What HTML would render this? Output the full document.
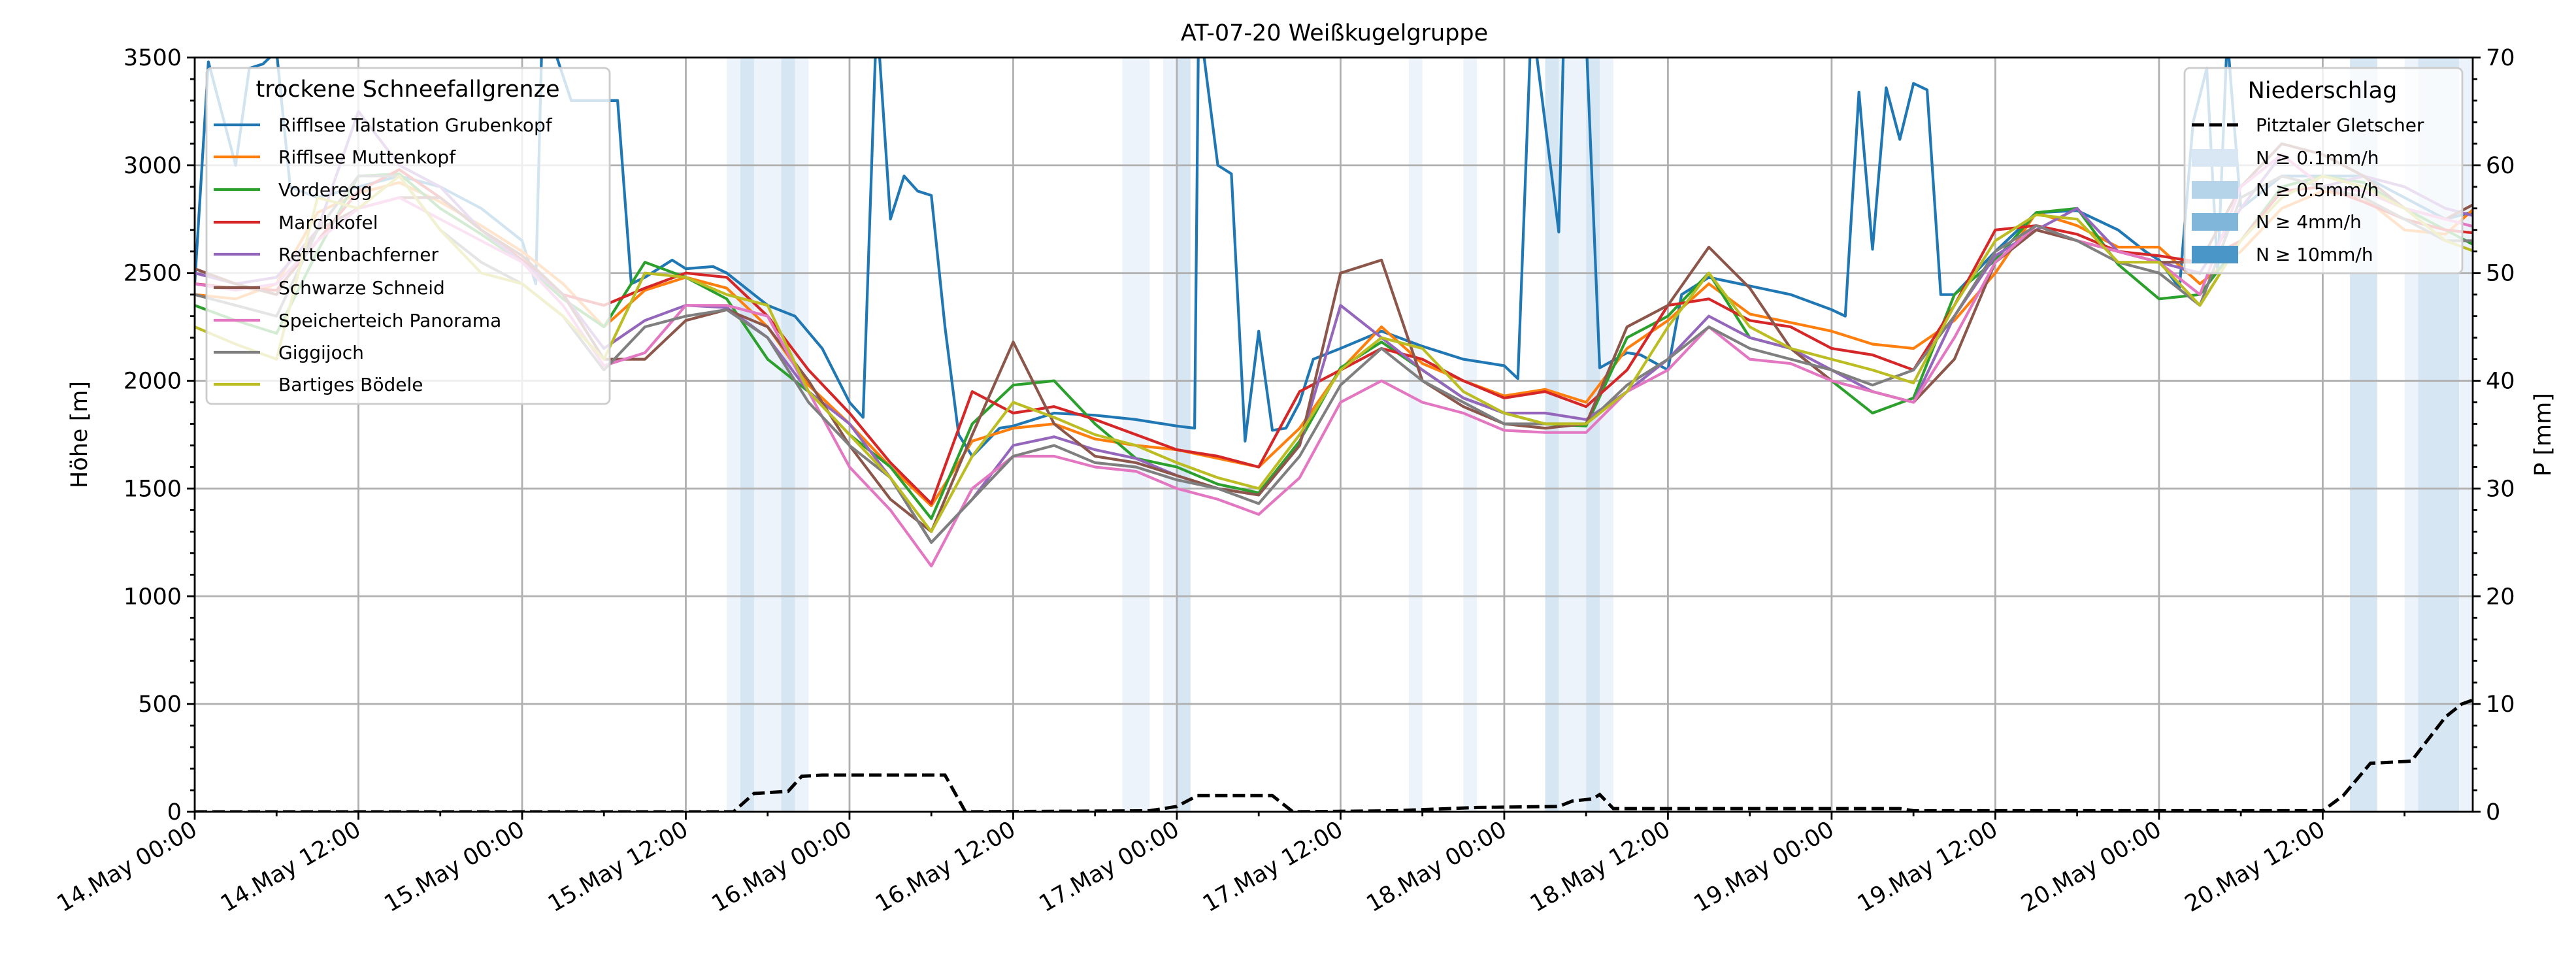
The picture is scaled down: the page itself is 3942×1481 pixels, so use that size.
<!DOCTYPE html>
<html><head><meta charset="utf-8">
<style>
html,body{margin:0;padding:0;background:#fff;}
svg{display:block;font-family:"DejaVu Sans","Liberation Sans",sans-serif;}
</style></head>
<body>
<svg id="chart" width="3942" height="1481" viewBox="0 0 3942 1481" xmlns="http://www.w3.org/2000/svg">
<defs><clipPath id="plotclip"><rect x="298" y="88" width="3486" height="1154"/></clipPath></defs>
<rect x="0" y="0" width="3942" height="1481" fill="#fff"/>
<g id="bands" clip-path="url(#plotclip)"></g>
<g id="grid"></g>
<g id="series" clip-path="url(#plotclip)"></g>
<g id="precip" clip-path="url(#plotclip)"></g>
<g id="legends"></g>
<g id="axes"></g>
<text x="2042" y="62" font-size="35" text-anchor="middle">AT-07-20 Weißkugelgruppe</text>
<text transform="translate(133,665) rotate(-90)" font-size="35" text-anchor="middle">Höhe [m]</text>
<text transform="translate(3903,665) rotate(-90)" font-size="35" text-anchor="middle">P [mm]</text>
</svg>
<script>
// ---- data ----
const seriesNames = ["Rifflsee Talstation Grubenkopf","Rifflsee Muttenkopf","Vorderegg","Marchkofel","Rettenbachferner","Schwarze Schneid","Speicherteich Panorama","Giggijoch","Bartiges Bödele"];
const seriesColors = ["#1f77b4","#ff7f0e","#2ca02c","#d62728","#9467bd","#8c564b","#e377c2","#7f7f7f","#bcbd22"];
const hours3 = [0,3,6,9,12,15,18,21,24,27,30,33,36,39,42,45,48,51,54,57,60,63,66,69,72,75,78,81,84,87,90,93,96,99,102,105,108,111,114,117,120,123,126,129,132,135,138,141,144,147,150,153,156,159,162,165,168];
const blueHours = [0,1,3,4,5,6,7,9,12,15,18,21,24,25,25.5,27.6,31,32,33,35,36,38,39,42,44,46,48,49,50,51,52,53,54,55,56,57,59,60,63,66,69,72,73.3,73.6,75,76,77,78,79,80,81,82,84,87,90,93,96,97,98,100,100.4,102,103,105,106,108,109,111,114,117,120,121,122,123,124,125,126,127,128,129,132,135,138,141,143,144,145.5,146.5,147.5,148.3,149,150,153,156,159,162,165,168];
const blueValues = [2450,3480,3000,3450,3470,3530,2900,2850,2900,2950,2900,2800,2650,2450,3700,3300,3300,2450,2480,2560,2520,2530,2500,2350,2300,2150,1900,1830,3700,2750,2950,2880,2860,2250,1750,1650,1780,1790,1850,1840,1820,1790,1780,3700,3000,2960,1720,2230,1770,1780,1900,2100,2150,2230,2160,2100,2070,2010,3700,2690,3700,3600,2060,2130,2120,2050,2400,2480,2440,2400,2330,2300,3340,2610,3360,3120,3380,3350,2400,2400,2600,2780,2790,2700,2600,2560,2430,3200,3450,2500,3600,2800,2950,2950,2950,2850,2750,2800];
const orangeValues = [2400,2380,2450,2780,2870,2920,2830,2720,2600,2450,2250,2420,2480,2430,2250,1980,1800,1600,1420,1720,1780,1800,1730,1700,1680,1640,1600,1780,2050,2250,2080,2000,1930,1960,1900,2150,2280,2450,2310,2270,2230,2170,2150,2280,2500,2780,2720,2620,2620,2450,2600,2800,2880,2850,2700,2680,2850];
const greenValues = [2350,2280,2220,2600,2950,2960,2800,2680,2550,2380,2250,2550,2480,2380,2100,1950,1750,1600,1360,1800,1980,2000,1800,1640,1600,1520,1480,1720,2060,2180,2050,1920,1850,1800,1790,2200,2300,2500,2200,2150,2000,1850,1920,2400,2560,2780,2800,2540,2380,2400,2650,2900,2950,2920,2800,2700,2600];
const redValues = [2450,2430,2420,2650,2880,2980,2850,2700,2560,2400,2350,2430,2500,2480,2300,2050,1850,1620,1430,1950,1850,1880,1820,1750,1680,1650,1600,1950,2050,2150,2100,2000,1920,1950,1880,2050,2350,2380,2280,2250,2150,2120,2050,2350,2700,2720,2680,2600,2580,2550,2650,2880,2900,2830,2750,2700,2680];
const purpleValues = [2500,2450,2480,2700,3250,3000,2900,2700,2550,2400,2150,2280,2350,2340,2200,1950,1800,1550,1250,1450,1700,1740,1680,1640,1560,1500,1470,1700,2350,2200,2050,1920,1850,1850,1820,1950,2100,2300,2200,2150,2050,1950,1900,2300,2580,2700,2800,2600,2550,2500,2800,3050,2900,2950,2900,2800,2750];
const brownValues = [2520,2450,2400,2700,2800,2850,2850,2700,2580,2400,2100,2100,2280,2330,2250,2000,1700,1450,1300,1750,2180,1800,1650,1620,1560,1500,1470,1700,2500,2560,2000,1880,1800,1780,1800,2250,2350,2620,2430,2150,2000,1950,1900,2100,2550,2700,2650,2600,2550,2550,2900,3100,3050,2950,2800,2750,2850];
const pinkValues = [2450,2420,2450,2650,2800,2850,2750,2650,2550,2350,2070,2130,2350,2350,2300,1950,1600,1400,1140,1500,1650,1650,1600,1580,1500,1450,1380,1550,1900,2000,1900,1850,1770,1760,1760,1950,2050,2250,2100,2080,2000,1950,1900,2200,2550,2720,2650,2600,2550,2400,2900,3050,2900,2880,2800,2750,2700];
const grayValues = [2400,2350,2300,2700,2950,2950,2700,2550,2450,2300,2050,2250,2300,2330,2200,1900,1700,1550,1250,1450,1650,1700,1620,1600,1540,1500,1430,1650,1980,2150,2000,1900,1800,1800,1800,1980,2100,2250,2150,2100,2050,1980,2050,2300,2600,2720,2650,2550,2500,2350,2850,2950,2900,2850,2750,2650,2650];
const oliveValues = [2250,2170,2100,2850,2800,2950,2700,2500,2450,2300,2100,2500,2480,2400,2350,1950,1750,1550,1300,1650,1900,1830,1750,1700,1620,1550,1500,1750,2050,2200,2150,1950,1850,1800,1800,1950,2250,2500,2250,2150,2100,2050,1990,2350,2650,2770,2750,2550,2550,2350,2650,2850,2950,2900,2800,2650,2580];
const precipHours = [0,39.5,41,43.5,44.5,46,55,56.5,70,72,73.5,79,80.5,88,94,100,101,102.5,103,104,125,126,156,157.5,159.5,162.5,165,166.2,167.5];
const precipValues = [0,0,1.7,1.9,3.3,3.4,3.4,0,0.1,0.5,1.5,1.5,0,0.1,0.4,0.5,1.0,1.2,1.6,0.3,0.3,0.1,0.1,1.5,4.5,4.7,8.8,10.0,10.6];
const bandStarts = [39,40,43,68,71,72,89,93,99,100,102,103,158,162,163,166];
const bandEnds   = [45,41,44,70,72,73,90,94,100,102,103,104,160,163,166,167.2];
const bandLevels = [0,1,1,0,0,1,0,0,1,0,1,0,1,0,1,0];
const xTickLabels = ["14.May 00:00","14.May 12:00","15.May 00:00","15.May 12:00","16.May 00:00","16.May 12:00","17.May 00:00","17.May 12:00","18.May 00:00","18.May 12:00","19.May 00:00","19.May 12:00","20.May 00:00","20.May 12:00"];
const yTicks = [0,500,1000,1500,2000,2500,3000,3500];
const y2Ticks = [0,10,20,30,40,50,60,70];

// ---- scales ----
const X0=298,X1=3784,Y0=1242,Y1=88,HMAX=167;
const xs=h=>X0+h/HMAX*(X1-X0);
const ys=v=>Y0-v/3500*(Y0-Y1);
const y2s=p=>Y0-p/70*(Y0-Y1);
const NS="http://www.w3.org/2000/svg";
function mk(tag,attrs,parent){const e=document.createElementNS(NS,tag);for(const k in attrs)e.setAttribute(k,attrs[k]);parent.appendChild(e);return e;}

// bands
const bandG=document.getElementById('bands');
const bandColors=["#edf3fa","#d7e6f3"];
bandStarts.forEach((s,i)=>{
  const r=mk('rect',{x:xs(s),y:Y1,width:xs(bandEnds[i])-xs(s),height:Y0-Y1,fill:bandColors[bandLevels[i]]},bandG);
  
  
});
// grid
const gridG=document.getElementById('grid');
for(let i=0;i<xTickLabels.length;i++){const gx=xs(i*12);const l=mk('line',{x1:gx,x2:gx,y1:Y1,y2:Y0,stroke:"#b0b0b0","stroke-width":2.8},gridG);
  
  }
yTicks.forEach(v=>{const l=mk('line',{x1:X0,x2:X1,y1:ys(v),y2:ys(v),stroke:"#b0b0b0","stroke-width":2.8},gridG);
  
  });

// series
const seriesG=document.getElementById('series');
const seriesData=[[blueHours,blueValues],[hours3,orangeValues],[hours3,greenValues],[hours3,redValues],[hours3,purpleValues],[hours3,brownValues],[hours3,pinkValues],[hours3,grayValues],[hours3,oliveValues]];
seriesData.forEach((d,i)=>{
  const pts=d[0].map((h,j)=>xs(h).toFixed(1)+","+ys(d[1][j]).toFixed(1)).join(" ");
  const p=mk('polyline',{points:pts,fill:"none",stroke:seriesColors[i],"stroke-width":4.2,"stroke-linejoin":"round"},seriesG);
  
  
});
// precip
const pG=document.getElementById('precip');
const pp=mk('polyline',{points:precipHours.map((h,j)=>xs(h).toFixed(1)+","+y2s(precipValues[j]).toFixed(1)).join(" "),fill:"none",stroke:"#000","stroke-width":5,"stroke-dasharray":"19,8"},pG);



// legends
const lg=document.getElementById('legends');
const lb=mk('rect',{x:316,y:104,width:617,height:514,rx:8,fill:"#fff","fill-opacity":0.8,stroke:"#cccccc","stroke-width":2.8},lg);


const lt=mk('text',{x:624,y:148,"font-size":35,"text-anchor":"middle"},lg);lt.textContent="trockene Schneefallgrenze";


const legY=[191,240,290,340,389,440,490,539,588];
seriesNames.forEach((n,i)=>{
  const l=mk('line',{x1:327,x2:398,y1:legY[i],y2:legY[i],stroke:seriesColors[i],"stroke-width":4.2},lg);
  
  
  const t=mk('text',{x:426,y:legY[i]+10,"font-size":28},lg);t.textContent=n;
  
  
});
const rb=mk('rect',{x:3343,y:104,width:425,height:314,rx:8,fill:"#fff","fill-opacity":0.8,stroke:"#cccccc","stroke-width":2.8},lg);


const rt=mk('text',{x:3554,y:150,"font-size":35,"text-anchor":"middle"},lg);rt.textContent="Niederschlag";


const rl=mk('line',{x1:3354,x2:3425,y1:191,y2:191,stroke:"#000","stroke-width":5,"stroke-dasharray":"19,8"},lg);


const rlt=mk('text',{x:3452,y:201,"font-size":28},lg);rlt.textContent="Pitztaler Gletscher";


const swC=["#d8e7f3","#b5d3e9","#7fb6d9","#4b96c8"];
const swL=["N ≥ 0.1mm/h","N ≥ 0.5mm/h","N ≥ 4mm/h","N ≥ 10mm/h"];
const swY=[241,290,339,389];
swC.forEach((c,i)=>{
  const r=mk('rect',{x:3354,y:swY[i]-13,width:71,height:27,fill:c},lg);
  
  
  const t=mk('text',{x:3452,y:swY[i]+10,"font-size":28},lg);t.textContent=swL[i];
  
  
});

// axes + ticks
const ax=document.getElementById('axes');
const frame=mk('rect',{x:X0,y:Y1,width:X1-X0,height:Y0-Y1,fill:"none",stroke:"#000","stroke-width":2.8},ax);


for(let h=0;h<=HMAX;h+=6){const major=h%12===0;mk('line',{x1:xs(h),x2:xs(h),y1:Y0,y2:Y0+(major?12:7),stroke:"#000","stroke-width":2.8},ax);}
xTickLabels.forEach((s,i)=>{
  const t=mk('text',{transform:`translate(${xs(i*12)+6},${Y0+34}) rotate(-30)`,"font-size":35,"text-anchor":"end"},ax);t.textContent=s;
  
  
});
for(let v=0;v<=3500;v+=100){const major=v%500===0;mk('line',{x1:X0,x2:X0-(major?12:7),y1:ys(v),y2:ys(v),stroke:"#000","stroke-width":2.8},ax);}
yTicks.forEach(v=>{const t=mk('text',{x:X0-20,y:ys(v)+12,"font-size":35,"text-anchor":"end"},ax);t.textContent=v;
  
  });
for(let p=0;p<=70;p+=2){const major=p%10===0;mk('line',{x1:X1,x2:X1+(major?12:7),y1:y2s(p),y2:y2s(p),stroke:"#000","stroke-width":2.8},ax);}
y2Ticks.forEach(p=>{const t=mk('text',{x:X1+20,y:y2s(p)+12,"font-size":35,"text-anchor":"start"},ax);t.textContent=p;
  
  });
</script>
</body></html>
